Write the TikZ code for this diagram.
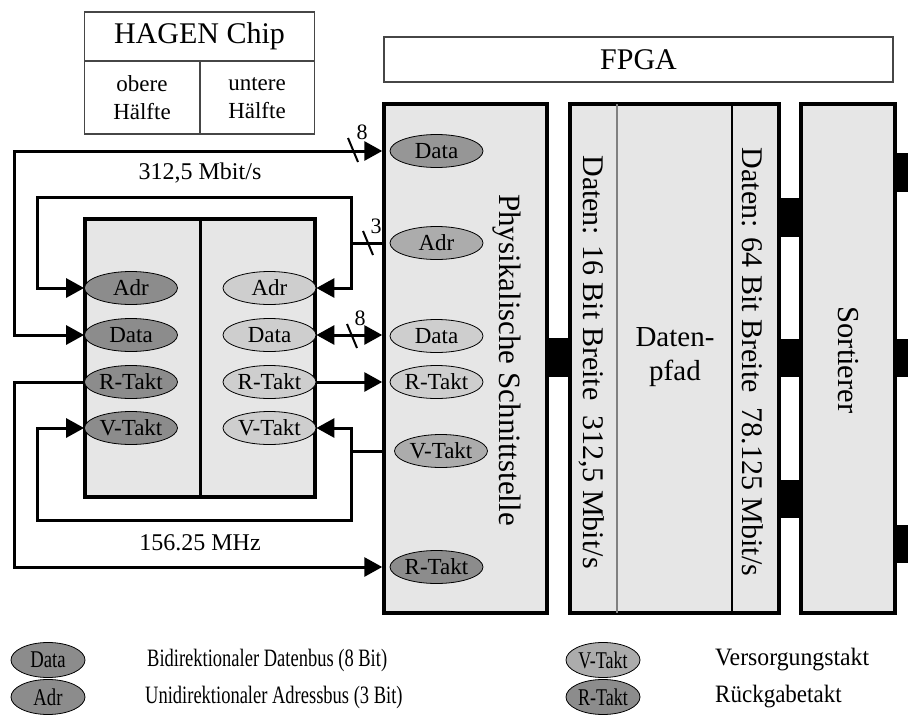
\documentclass[tikz,border=0pt]{standalone}
\usepackage{fontspec}
\setmainfont{Liberation Serif}
\usetikzlibrary{arrows.meta,shapes.geometric}
\definecolor{ellD}{RGB}{140,140,140}
\definecolor{ellP}{RGB}{150,150,150}
\definecolor{ellM}{RGB}{172,172,172}
\definecolor{ellL}{RGB}{206,206,206}
\definecolor{boxF}{RGB}{230,230,230}
\definecolor{thinB}{RGB}{70,70,70}
\begin{document}
\begin{tikzpicture}[x=1pt,y=-1pt,
  ell/.style={ellipse,draw=black,line width=0.8pt,minimum width=93pt,minimum height=33pt,inner sep=0pt,font=\fontsize{23}{26}\selectfont},
  lell/.style={ellipse,draw=black,line width=0.8pt,minimum width=74pt,minimum height=35pt,inner sep=0pt,font=\fontsize{24}{26}\selectfont},
  bigbox/.style={draw=black,line width=3.5pt,fill=boxF,inner sep=0pt},
  thinbox/.style={draw=thinB,line width=1.3pt,inner sep=0pt},
  conn/.style={line width=3pt},
  tipR/.style={-{Triangle[length=18pt,width=19pt]}},
  tipB/.style={{Triangle[length=18pt,width=19pt]}-{Triangle[length=18pt,width=19pt]}},
  busmark/.style={line width=2pt},
  digit/.style={font=\fontsize{22}{24}\selectfont,inner sep=0pt},
  lbl/.style={font=\fontsize{24}{28}\selectfont,inner sep=0pt},
  legtxt/.style={font=\fontsize{25}{28}\selectfont,inner sep=0pt,anchor=west}
]
\useasboundingbox (0,0) rectangle (908,720);

% ---- HAGEN Chip table
\node[thinbox,minimum width=230pt,minimum height=122pt] (tab) at (199.5,73) {};
\draw[thinB,line width=1.3pt] (84,61) -- (314,61);
\draw[thinB,line width=1.3pt] (200,61) -- (200,134);
\node[font=\fontsize{30}{34}\selectfont,inner sep=0pt] (tabt) at (199.5,36) {HAGEN Chip};
\node[font=\fontsize{23}{28}\selectfont,inner sep=0pt,align=center] (tabl) at (142,98) {obere\\Hälfte};
\node[font=\fontsize{23}{28}\selectfont,inner sep=0pt,align=center] (tabr) at (257,98) {untere\\Hälfte};

% ---- FPGA header
\node[thinbox,minimum width=509pt,minimum height=45pt,font=\fontsize{30}{34}\selectfont] (fpga) at (638.5,59.5) {FPGA};

% ---- big boxes
\node[bigbox,minimum width=163pt,minimum height=509pt] (phys) at (465.5,358.5) {};
\node[bigbox,minimum width=209pt,minimum height=509pt] (dp) at (674.5,358.5) {};
\node[bigbox,minimum width=94pt,minimum height=509pt] (sort) at (848,358.5) {};
\draw[gray,line width=1.5pt] (617,104) -- (617,613);
\draw[black,line width=1.2pt] (732,104) -- (732,613);

% black tabs
\fill (phys.east |- 0,338) rectangle (dp.west |- 0,377);
\fill (dp.east |- 0,198) rectangle (sort.west |- 0,237);
\fill (dp.east |- 0,339) rectangle (sort.west |- 0,377);
\fill (dp.east |- 0,480) rectangle (sort.west |- 0,518);
\fill (sort.east |- 0,153) rectangle (908,192);
\fill (sort.east |- 0,339) rectangle (908,377);
\fill (sort.east |- 0,525) rectangle (908,563);

% vertical labels
\node[rotate=-90,font=\fontsize{31}{34}\selectfont,inner sep=0pt] (physt) at (507,360) {Physikalische Schnittstelle};
\node[rotate=-90,font=\fontsize{30}{32}\selectfont,inner sep=0pt] (d16) at (592,362) {Daten: 16 Bit Breite \ 312,5 Mbit/s};
\node[rotate=-90,font=\fontsize{30}{32}\selectfont,inner sep=0pt] (d64) at (753,362) {Daten: 64 Bit Breite \ 78.125 Mbit/s};
\node[font=\fontsize{29}{34}\selectfont,inner sep=0pt,align=center] (dpt) at (675,357) {Daten-\\pfad};
\node[rotate=-90,font=\fontsize{30.5}{34}\selectfont,inner sep=0pt] (sortt) at (848,360) {Sortierer};

% physical interface ellipses
\node[ell,fill=ellP] (pData1) at (436.5,151) {Data};
\node[ell,fill=ellM] (pAdr) at (436.5,243) {Adr};
\node[ell,fill=ellL] (pData2) at (436.5,336) {Data};
\node[ell,fill=ellL] (pR1) at (436.5,382) {R-Takt};
\node[ell,fill=ellM] (pV) at (441,451) {V-Takt};
\node[ell,fill=ellD] (pR2) at (436.5,567) {R-Takt};

% HAGEN chip
\node[bigbox,minimum width=230pt,minimum height=278pt] (chip) at (200,358) {};
\draw[line width=3pt] (chip.north) -- (chip.south);
\node[ell,fill=ellD] (lAdr) at (131,288) {Adr};
\node[ell,fill=ellD] (lData) at (131,335) {Data};
\node[ell,fill=ellD] (lR) at (131,382) {R-Takt};
\node[ell,fill=ellD] (lV) at (131,428) {V-Takt};
\node[ell,fill=ellL] (rAdr) at (269.5,288) {Adr};
\node[ell,fill=ellL] (rData) at (269.5,335) {Data};
\node[ell,fill=ellL] (rR) at (269.5,382) {R-Takt};
\node[ell,fill=ellL] (rV) at (269.5,428) {V-Takt};

% routing coordinates
\coordinate (xA) at (14,0);
\coordinate (xB) at (37,0);
\coordinate (xJ) at (351,0);
\coordinate (yAd) at (0,197);
\coordinate (yVb) at (0,520);

% connectors
\draw[conn,tipB] (lData.west) -- (xA |- lData.west) -- (xA |- pData1) -- (phys.west |- pData1);
\draw[conn,tipR] (phys.west |- pAdr) -- (xJ |- pAdr) -- (xJ |- yAd) -- (xB |- yAd) -- (xB |- lAdr) -- (lAdr.west);
\draw[conn,tipR] (xJ |- pAdr) -- (xJ |- rAdr) -- (rAdr.east);
\draw[conn,tipB] (rData.east) -- (phys.west |- rData);
\draw[conn,tipR] (rR.east) -- (phys.west |- rR);
\draw[conn,tipR] (phys.west |- pV) -- (xJ |- pV) -- (xJ |- rV) -- (rV.east);
\draw[conn,tipR] (xJ |- pV) -- (xJ |- yVb) -- (xB |- yVb) -- (xB |- lV) -- (lV.west);
\draw[conn,tipR] (lR.west) -- (xA |- lR) -- (xA |- pR2) -- (phys.west |- pR2);

% bus width marks
\draw[busmark] (348,138) -- (358,162);
\node[digit] (n8a) at (362,132) {8};
\draw[busmark] (363,231) -- (373,255);
\node[digit] (n3) at (376,226) {3};
\draw[busmark] (347,324) -- (357,348);
\node[digit] (n8b) at (360,318) {8};

% rate labels
\node[lbl] (r1) at (200,173) {312,5 Mbit/s};
\node[lbl] (r2) at (200,543) {156.25 MHz};

% legend
\node[lell,fill=ellD] (gData) at (48,660) {\scalebox{0.78}[1]{Data}};
\node[lell,fill=ellD] (gAdr) at (48,697) {\scalebox{0.78}[1]{Adr}};
\node[lell,fill=ellM] (gV) at (603,660) {\scalebox{0.75}[1]{V-Takt}};
\node[lell,fill=ellD] (gR) at (603,697) {\scalebox{0.75}[1]{R-Takt}};
\node[legtxt] (tData) at (147,660) {\scalebox{0.74}[1]{Bidirektionaler Datenbus (8 Bit)}};
\node[legtxt] (tAdr) at (145,697) {\scalebox{0.74}[1]{Unidirektionaler Adressbus (3 Bit)}};
\node[legtxt] (tV) at (715,660) {\scalebox{0.95}[1]{Versorgungstakt}};
\node[legtxt] (tR) at (715,697) {\scalebox{0.92}[1]{Rückgabetakt}};
\end{tikzpicture}
\end{document}
